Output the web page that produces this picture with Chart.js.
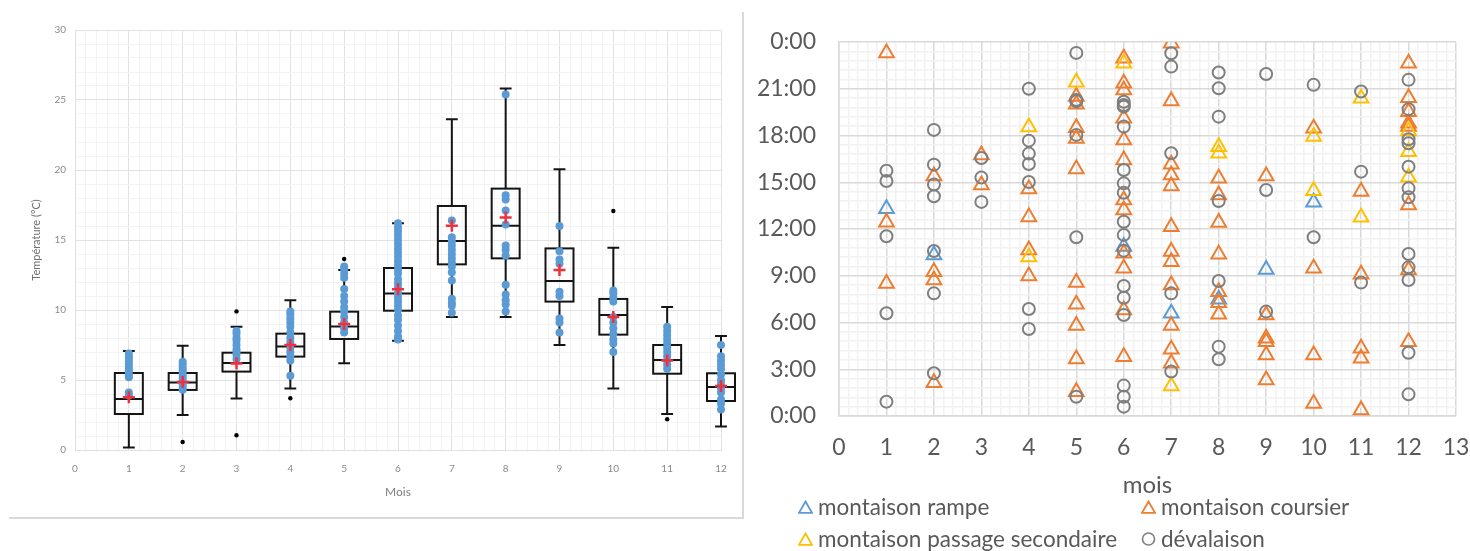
<!DOCTYPE html>
<html lang="fr">
<head>
<meta charset="utf-8">
<title>Températures et heures de passage par mois</title>
<script src="https://cdn.jsdelivr.net/npm/chart.js@4.4.1/dist/chart.umd.min.js"></script>
<style>
  body { margin: 0; background: #fff; font-family: Lato, "Open Sans", sans-serif; }
  #page { position: relative; width: 1470px; height: 551px; overflow: hidden; }
  #cadreTemp { position: absolute; left: 9px; top: 12px; width: 733px; height: 505px;
    border-right: 2px solid #d9d9d9; border-bottom: 2px solid #d9d9d9; }
  #boxTemp { position: absolute; left: 0; top: 0; width: 748px; height: 520px; }
  #boxHeures { position: absolute; left: 750px; top: 0; width: 720px; height: 500px; }
  .legende { position: absolute; color: #595959; font-size: 22.5px; line-height: 24px;
    white-space: nowrap; display: flex; align-items: center; }
  .legende svg { margin-right: 5px; }
</style>
</head>
<body>
<div id="page">
  <div id="cadreTemp"></div>
  <div id="boxTemp"><canvas id="chartTemp"></canvas></div>
  <div id="boxHeures"><canvas id="chartHeures"></canvas></div>

  <div class="legende" style="left:798px; top:495px">
    <svg width="15" height="14"><polygon points="7.5,1.5 14,12.8 1,12.8" fill="none" stroke="#5b9bd5" stroke-width="1.8"/></svg>montaison rampe</div>
  <div class="legende" style="left:1141px; top:495px">
    <svg width="15" height="14"><polygon points="7.5,1.5 14,12.8 1,12.8" fill="none" stroke="#ed7d31" stroke-width="1.8"/></svg>montaison coursier</div>
  <div class="legende" style="left:798px; top:527px">
    <svg width="15" height="14"><polygon points="7.5,1.5 14,12.8 1,12.8" fill="none" stroke="#ffc000" stroke-width="1.8"/></svg>montaison passage secondaire</div>
  <div class="legende" style="left:1141px; top:527px">
    <svg width="15" height="14"><circle cx="7.5" cy="7" r="6" fill="none" stroke="#7f7f7f" stroke-width="1.6"/></svg>dévalaison</div>
</div>

<script>
// ---- graphique de gauche : températures par mois (boîtes à moustaches)
const mois = [1, 2, 3, 4, 5, 6, 7, 8, 9, 10, 11, 12];
const boiteMin     = [0.17, 2.5, 3.67, 4.4, 6.19, 7.8, 9.5, 9.5, 7.5, 4.4, 2.57, 1.67];
const boiteQ1      = [2.57, 4.29, 5.6, 6.67, 7.93, 9.95, 13.26, 13.69, 10.6, 8.24, 5.45, 3.5];
const boiteMediane = [3.64, 4.83, 6.21, 7.4, 8.83, 11.17, 14.93, 16.02, 12.07, 9.64, 6.43, 4.5];
const boiteQ3      = [5.5, 5.5, 6.95, 8.31, 9.88, 13.0, 17.43, 18.67, 14.4, 10.79, 7.5, 5.48];
const boiteMax     = [7.07, 7.45, 8.81, 10.7, 12.86, 16.19, 23.62, 25.83, 20.05, 14.45, 10.21, 8.14];
const moyenne      = [3.76, 4.85, 6.17, 7.5, 9.0, 11.48, 16.02, 16.6, 12.86, 9.5, 6.4, 4.57];
const extremesMois = [2, 3, 3, 4, 5, 10, 11];
const extremesTemp = [0.57, 9.9, 1.05, 3.7, 13.64, 17.07, 2.2];

const tempJan = [6.9, 6.7, 6.5, 6.3, 6.1, 5.9, 5.7, 5.5, 5.3, 5.2, 4.1, 3.9];
const tempFev = [6.3, 6.1, 5.9, 5.7, 5.5, 5.3, 5.1, 4.9, 4.7, 4.5, 4.3];
const tempMar = [8.5, 8.3, 8.0, 7.8, 7.5, 7.2, 7.0, 6.8, 6.5];
const tempAvr = [9.9, 9.7, 9.4, 9.1, 8.8, 8.4, 8.0, 7.7, 7.3, 7.0, 6.7, 6.4, 5.3];
const tempMai = [13.1, 12.9, 12.6, 12.3, 11.5, 11.0, 10.6, 10.2, 9.9, 9.5, 9.1, 8.7, 8.4];
const tempJun = [16.2, 15.9, 15.6, 15.3, 15.0, 14.7, 14.4, 14.1, 13.8, 13.5, 13.2, 12.9, 12.6, 12.2,
                 11.9, 11.6, 11.2, 10.9, 10.6, 10.3, 10.0, 9.6, 9.3, 8.9, 8.5, 8.1, 7.9];
const tempJul = [16.4, 15.2, 14.9, 14.6, 14.3, 14.0, 13.7, 13.4, 13.1, 12.7, 12.1, 10.8, 10.5, 10.3, 9.8];
const tempAou = [25.4, 18.2, 17.9, 17.1, 16.1, 14.6, 14.3, 13.9, 11.8, 11.1, 10.7, 10.4, 9.9];
const tempSep = [16.0, 14.2, 13.6, 13.3, 11.3, 11.0, 9.4, 9.1, 8.4];
const tempOct = [11.4, 11.2, 10.9, 10.6, 9.5, 9.1, 8.7, 8.3, 7.9, 7.6, 7.0];
const tempNov = [8.8, 8.5, 8.2, 7.9, 7.6, 7.3, 7.0, 6.7, 6.4, 6.1, 5.8];
const tempDec = [7.5, 6.7, 6.4, 6.1, 5.8, 5.4, 5.0, 4.7, 4.4, 4.1, 3.6, 3.3, 2.9];
const tempParMois = [tempJan, tempFev, tempMar, tempAvr, tempMai, tempJun,
                     tempJul, tempAou, tempSep, tempOct, tempNov, tempDec];

// ---- graphique de droite : heures de passage (heures décimales), une liste par mois
const rampeHeures = [[13.3], [10.33], [], [], [], [10.87], [6.59], [7.49], [9.4], [13.72], [], []];
const coursierHeures = [
  [23.3, 12.43, 8.5],
  [15.4, 9.26, 8.73, 2.14],
  [16.75, 14.83],
  [14.57, 12.77, 10.65, 8.99],
  [20.5, 20.0, 18.5, 17.8, 15.85, 8.56, 7.17, 5.8, 3.66, 1.56],
  [22.96, 21.35, 20.92, 19.1, 17.71, 16.43, 13.86, 13.22, 10.44, 9.48, 6.8, 3.81],
  [23.92, 20.22, 16.15, 15.47, 14.76, 12.15, 10.55, 9.9, 8.41, 5.8, 4.28, 3.38],
  [15.26, 14.18, 12.41, 10.38, 7.98, 7.27, 6.53],
  [15.4, 6.48, 4.99, 4.77, 3.92, 2.31],
  [18.47, 9.48, 3.92, 0.81],
  [14.4, 9.1, 4.35, 3.7, 0.39],
  [22.63, 20.43, 19.53, 18.79, 18.57, 13.54, 9.37, 4.77]
];
const passageHeures = [[], [], [], [18.55, 10.2], [21.41], [22.63], [1.93], [17.28, 16.86], [],
  [17.93, 14.46], [20.39, 12.75], [18.29, 16.96, 15.32]];
const devalaisonHeures = [
  [15.74, 15.08, 11.53, 6.59, 0.92],
  [18.36, 16.13, 14.85, 14.1, 10.59, 7.87, 2.74],
  [16.56, 15.3, 13.74],
  [21.0, 17.67, 16.84, 16.17, 15.02, 6.87, 5.58],
  [23.3, 20.28, 20.2, 18.04, 11.47, 1.24],
  [20.17, 19.95, 19.85, 18.57, 15.79, 14.93, 14.33, 12.47, 11.62, 10.61, 8.34, 7.59, 6.48, 1.95, 1.24, 0.6],
  [23.28, 22.42, 16.86, 7.87, 2.85],
  [22.04, 21.03, 19.21, 13.8, 8.66, 4.45, 3.64],
  [21.95, 14.5, 6.7],
  [21.25, 11.47],
  [20.82, 15.68, 8.56],
  [21.57, 19.69, 17.76, 17.5, 16.0, 14.61, 14.04, 10.4, 9.54, 8.73, 4.06, 1.39]
];

Chart.defaults.font.family = 'Lato, "Open Sans", sans-serif';
Chart.defaults.animation = false;

const multiple = (v, pas) => Math.abs(v / pas - Math.round(v / pas)) < 1e-6;

function versPoints(parMois) {
  const pts = [];
  parMois.forEach((valeurs, i) => valeurs.forEach(v => pts.push({ x: mois[i], y: v })));
  return pts;
}

// boîtes, médianes et moustaches dessinées via les échelles du graphique
const boitesPlugin = {
  id: 'boites',
  beforeDatasetsDraw(chart) {
    const { ctx, scales: { x, y } } = chart;
    ctx.save();
    ctx.strokeStyle = '#141414';
    ctx.lineWidth = 2;
    mois.forEach((m, i) => {
      const cx = x.getPixelForValue(m);
      const demi = x.getPixelForValue(m + 0.26) - cx;
      const cap = x.getPixelForValue(m + 0.11) - cx;
      const yMin = y.getPixelForValue(boiteMin[i]);
      const yQ1 = y.getPixelForValue(boiteQ1[i]);
      const yMed = y.getPixelForValue(boiteMediane[i]);
      const yQ3 = y.getPixelForValue(boiteQ3[i]);
      const yMax = y.getPixelForValue(boiteMax[i]);
      ctx.beginPath();
      ctx.moveTo(cx, yQ3); ctx.lineTo(cx, yMax);
      ctx.moveTo(cx - cap, yMax); ctx.lineTo(cx + cap, yMax);
      ctx.moveTo(cx, yQ1); ctx.lineTo(cx, yMin);
      ctx.moveTo(cx - cap, yMin); ctx.lineTo(cx + cap, yMin);
      ctx.moveTo(cx - demi, yMed); ctx.lineTo(cx + demi, yMed);
      ctx.stroke();
      ctx.strokeRect(cx - demi, yQ3, 2 * demi, yQ1 - yQ3);
    });
    ctx.restore();
  }
};

// largeur d'axe fixe, sans la marge ajoutée pour les étiquettes d'extrémité
const axeX = h => s => { s.height = h; s.paddingLeft = 0; s.paddingRight = 0; };

new Chart(document.getElementById('chartTemp'), {
  type: 'scatter',
  data: {
    datasets: [
      {
        label: 'Moyenne',
        data: mois.map((m, i) => ({ x: m, y: moyenne[i] })),
        pointStyle: 'cross', radius: 6, borderWidth: 2.5,
        borderColor: '#f0303c', clip: false
      },
      {
        label: 'Valeurs extrêmes',
        data: extremesMois.map((m, i) => ({ x: m, y: extremesTemp[i] })),
        pointStyle: 'circle', radius: 2.2, borderWidth: 0,
        backgroundColor: '#000', clip: false
      },
      {
        label: 'Températures',
        data: versPoints(tempParMois),
        pointStyle: 'circle', radius: 4, borderWidth: 0,
        backgroundColor: '#5b9bd5', clip: false
      }
    ]
  },
  options: {
    responsive: true,
    maintainAspectRatio: false,
    events: [],
    layout: { padding: { top: 30, right: 27, left: 0, bottom: 0 } },
    plugins: { legend: { display: false }, tooltip: { enabled: false } },
    scales: {
      x: {
        type: 'linear', min: 0, max: 12,
        afterFit: axeX(70),
        border: { color: '#e0e0e0' },
        grid: {
          drawTicks: false,
          color: c => multiple(c.tick.value, 1) ? '#e2e2e2' : '#f3f3f3'
        },
        ticks: {
          stepSize: 0.2, autoSkip: false, maxRotation: 0, padding: 13,
          color: '#8a8a8a', font: { size: 10 },
          callback: v => multiple(v, 1) ? String(Math.round(v)) : ''
        },
        title: { display: true, text: 'Mois', color: '#808080', font: { size: 12 },
                 padding: { top: 0, bottom: 21 } }
      },
      y: {
        min: 0, max: 30,
        afterFit: s => { s.width = 75; },
        border: { color: '#e0e0e0' },
        grid: {
          drawTicks: false,
          color: c => multiple(c.tick.value, 5) ? '#e2e2e2' : '#f3f3f3'
        },
        ticks: {
          stepSize: 1, autoSkip: false, padding: 9,
          color: '#8a8a8a', font: { size: 10 },
          callback: v => multiple(v, 5) ? String(Math.round(v)) : ''
        },
        title: { display: true, text: 'Température (°C)', color: '#707070', font: { size: 11 },
                 padding: { top: 30, bottom: 0 } }
      }
    }
  },
  plugins: [boitesPlugin]
});

new Chart(document.getElementById('chartHeures'), {
  type: 'scatter',
  data: {
    datasets: [
      {
        label: 'montaison rampe', order: 3,
        data: versPoints(rampeHeures),
        pointStyle: 'triangle', radius: 8.5, borderWidth: 2,
        borderColor: '#5b9bd5', backgroundColor: 'rgba(0,0,0,0)'
      },
      {
        label: 'montaison coursier', order: 2,
        data: versPoints(coursierHeures),
        pointStyle: 'triangle', radius: 8.5, borderWidth: 2,
        borderColor: '#ed7d31', backgroundColor: 'rgba(0,0,0,0)'
      },
      {
        label: 'montaison passage secondaire', order: 1,
        data: versPoints(passageHeures),
        pointStyle: 'triangle', radius: 8.5, borderWidth: 2,
        borderColor: '#ffc000', backgroundColor: 'rgba(0,0,0,0)'
      },
      {
        label: 'dévalaison', order: 0,
        data: versPoints(devalaisonHeures),
        pointStyle: 'circle', radius: 6, borderWidth: 2,
        borderColor: '#7f7f7f', backgroundColor: 'rgba(0,0,0,0)'
      }
    ]
  },
  options: {
    responsive: true,
    maintainAspectRatio: false,
    events: [],
    layout: { padding: { top: 42, right: 14, left: 0, bottom: 0 } },
    plugins: { legend: { display: false }, tooltip: { enabled: false } },
    scales: {
      x: {
        type: 'linear', min: 0, max: 13,
        afterFit: axeX(84),
        border: { color: '#d9d9d9', width: 1.5 },
        grid: {
          drawTicks: false,
          lineWidth: 1.5,
          color: c => multiple(c.tick.value, 1) ? '#d9d9d9' : '#f2f2f2'
        },
        ticks: {
          stepSize: 0.2, autoSkip: false, maxRotation: 0, padding: 18,
          color: '#595959', font: { size: 23 },
          callback: v => multiple(v, 1) ? String(Math.round(v)) : ''
        },
        title: { display: true, text: 'mois', color: '#595959', font: { size: 24 },
                 padding: { top: 0, bottom: 0 } }
      },
      y: {
        min: 0, max: 24,
        afterFit: s => { s.width = 89; },
        border: { color: '#d9d9d9', width: 1.5 },
        grid: {
          drawTicks: false,
          lineWidth: 1.5,
          color: c => multiple(c.tick.value, 3) ? '#d9d9d9' : '#f2f2f2'
        },
        ticks: {
          stepSize: 0.6, autoSkip: false, padding: 23,
          color: '#595959', font: { size: 23 },
          callback: v => multiple(v, 3) ? (Math.round(v) % 24) + ':00' : ''
        }
      }
    }
  }
});
</script>
</body>
</html>
